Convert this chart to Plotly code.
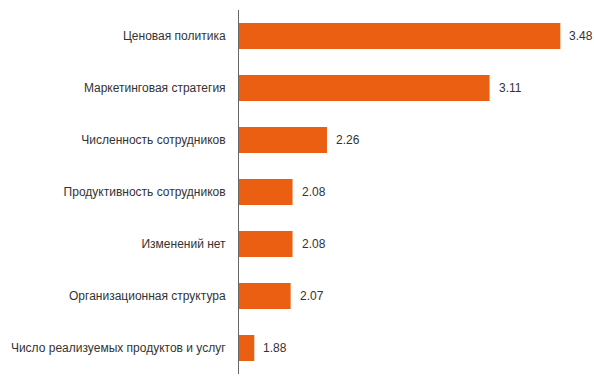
import plotly.graph_objects as go

categories = ["Ценовая политика", "Маркетинговая стратегия", "Численность сотрудников",
              "Продуктивность сотрудников", "Изменений нет", "Организационная структура",
              "Число реализуемых продуктов и услуг"]
values = [3.48, 3.11, 2.26, 2.08, 2.08, 2.07, 1.88]
value_labels = ["3.48", "3.11", "2.26", "2.08", "2.08", "2.07", "1.88"]

fig = go.Figure()
fig.add_trace(go.Bar(
    y=categories, x=values, orientation="h",
    marker=dict(color="#EA5F11", line=dict(width=0)),
    width=0.5, hoverinfo="skip",
))
for c, v, t in zip(categories, values, value_labels):
    fig.add_annotation(x=v, y=c, text=t, showarrow=False, xanchor="left",
                       xshift=7, font=dict(size=12, color="#333333"))

fig.update_layout(
    width=594, height=384,
    margin=dict(l=239, r=0, t=10, b=10, autoexpand=False),
    paper_bgcolor="white", plot_bgcolor="white",
    font=dict(family="Liberation Sans, Arial, sans-serif", size=12, color="#333333"),
    showlegend=False,
    bargap=0.5,
)
fig.update_xaxes(range=[1.8, 3.656], visible=False, showgrid=False, zeroline=False,
                 automargin=False)
fig.update_yaxes(autorange="reversed", showline=True, linecolor="#666666", linewidth=1,
                 showgrid=False, ticks="", ticklabelstandoff=10, automargin=False,
                 tickfont=dict(size=12, color="#333333"))
fig.write_html("out.html", config={"displayModeBar": False},
               post_script="document.body.style.margin='0';document.body.style.overflow='hidden';")
